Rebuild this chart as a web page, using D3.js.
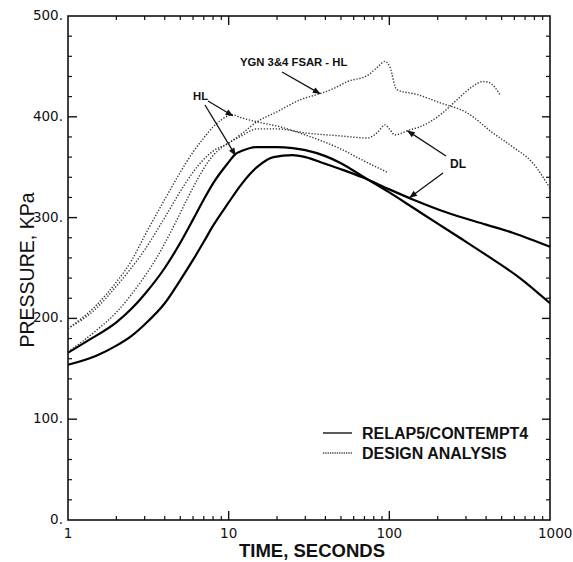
<!DOCTYPE html>
<html>
<head>
<meta charset="utf-8">
<title>Pressure vs time</title>
<script src="https://d3js.org/d3.v7.min.js"></script>
<style>
  body { margin: 0; background: #fff; }
  text { fill: #111; }
  .tick-label { font-family: "DejaVu Sans", sans-serif; font-size: 13.5px; }
  .note { font-family: "Liberation Sans", Arial, sans-serif; font-weight: bold; font-size: 11.3px; }
</style>
</head>
<body>
<div id="chart"></div>
<script>
// time (s) / pressure (kPa)
var relapHL_t = [1, 1.33, 2, 2.5, 3, 4, 5, 6, 7, 8, 10, 11, 12, 15, 20, 25, 30, 40, 50, 68, 100, 140, 200, 287, 400, 650, 1000];
var relapHL_p = [166, 178, 196, 210, 224, 250, 275, 298, 318, 334, 355, 363, 366, 370, 370, 369, 367, 361, 354, 341, 325, 310, 294, 278, 263, 240, 215];

var relapDL_t = [1, 1.5, 2, 2.5, 3, 4, 5, 6, 7, 8, 10, 12, 15, 19, 25, 30, 39, 50, 68, 100, 140, 228, 400, 585, 800, 1000];
var relapDL_p = [154, 163, 173, 183, 194, 215, 238, 258, 276, 292, 315, 333, 350, 360, 362, 360, 354, 348, 340, 328, 318, 305, 293, 285, 277, 271];

var designHL_t = [1, 1.5, 2, 2.5, 3, 4, 5, 6, 7, 8, 9, 10.5, 12, 15, 21, 30, 50, 70, 97];
var designHL_p = [190, 213, 236, 258, 282, 318, 345, 365, 379, 390, 397, 402, 399, 395, 390, 382, 368, 356, 345];

var designDL_t = [1, 1.5, 2, 2.8, 3.5, 4.5, 5.5, 6.5, 7.5, 8.5, 10, 12, 15, 20, 30, 50, 73, 85, 94, 100, 108, 134, 155, 215, 264, 330, 381, 419, 488];
var designDL_p = [167, 188, 206, 235, 258, 290, 318, 340, 356, 366, 374, 381, 388, 388, 384, 381, 379, 385, 392, 388, 382, 387, 390, 404, 417, 430, 435, 434, 422];

var fsarHL_t = [1, 1.5, 2, 3, 4, 5, 6, 7, 8, 10, 12, 15, 20, 28, 37, 45, 55, 73, 84, 94, 101, 111, 150, 206, 304, 441, 588, 783, 1000];
var fsarHL_p = [190, 210, 232, 268, 300, 326, 345, 358, 366, 374, 383, 395, 405, 417, 423, 428, 435, 441, 449, 455, 449, 427, 422, 414, 404, 384, 370, 354, 329];

var xMajor = [1, 10, 100, 1000];
var yMajor = [0, 100, 200, 300, 400, 500];
var legendNames = ["RELAP5/CONTEMPT4", "DESIGN ANALYSIS"];

const W = 573, H = 562;
const svg = d3.select("#chart").append("svg").attr("width", W).attr("height", H);

const x = d3.scaleLog().domain([1, 1000]).range([68, 550]);
const y = d3.scaleLinear().domain([0, 500]).range([520, 16]);

function pts(ts, ps) { return ts.map((t, i) => [t, ps[i]]); }

const line = d3.line()
  .x(d => x(d[0]))
  .y(d => y(d[1]))
  .curve(d3.curveMonotoneX);

// marker for annotation arrows
svg.append("defs").append("marker")
  .attr("id", "head")
  .attr("viewBox", "0 0 10 10")
  .attr("refX", 9).attr("refY", 5)
  .attr("markerWidth", 7).attr("markerHeight", 6)
  .attr("orient", "auto")
  .append("path").attr("d", "M0,1 L10,5 L0,9 Z").attr("fill", "#111");

// ticks, all pointing inwards
var minorX = [];
[1, 10, 100].forEach(d => { for (var k = 2; k <= 9; k++) minorX.push(d * k); });
var minorY = d3.range(0, 501, 20).filter(v => v % 100 != 0);

const axes = svg.append("g").attr("stroke", "#111");
axes.append("rect")
  .attr("x", x(1)).attr("y", y(500))
  .attr("width", x(1000) - x(1)).attr("height", y(0) - y(500))
  .attr("fill", "none").attr("stroke-width", 1.6);

minorX.forEach(v => {
  axes.append("line").attr("x1", x(v)).attr("x2", x(v)).attr("y1", y(0)).attr("y2", y(0) - 4).attr("stroke-width", 1.2);
  axes.append("line").attr("x1", x(v)).attr("x2", x(v)).attr("y1", y(500)).attr("y2", y(500) + 4).attr("stroke-width", 1.2);
});
xMajor.slice(1, 3).forEach(v => {
  axes.append("line").attr("x1", x(v)).attr("x2", x(v)).attr("y1", y(0)).attr("y2", y(0) - 9).attr("stroke-width", 1.4);
  axes.append("line").attr("x1", x(v)).attr("x2", x(v)).attr("y1", y(500)).attr("y2", y(500) + 9).attr("stroke-width", 1.4);
});
minorY.forEach(v => {
  axes.append("line").attr("x1", x(1)).attr("x2", x(1) + 4).attr("y1", y(v)).attr("y2", y(v)).attr("stroke-width", 1.2);
  axes.append("line").attr("x1", x(1000)).attr("x2", x(1000) - 4).attr("y1", y(v)).attr("y2", y(v)).attr("stroke-width", 1.2);
});
yMajor.slice(1, 5).forEach(v => {
  axes.append("line").attr("x1", x(1)).attr("x2", x(1) + 9).attr("y1", y(v)).attr("y2", y(v)).attr("stroke-width", 1.4);
  axes.append("line").attr("x1", x(1000)).attr("x2", x(1000) - 8).attr("y1", y(v)).attr("y2", y(v)).attr("stroke-width", 1.4);
});

svg.selectAll(".xl").data(xMajor).enter().append("text")
  .attr("class", "tick-label")
  .attr("x", d => x(d)).attr("y", 538)
  .attr("text-anchor", d => d == 1000 ? "start" : "middle")
  .attr("dx", d => d == 1000 ? -12 : 0)
  .text(d => d);

svg.selectAll(".yl").data(yMajor).enter().append("text")
  .attr("class", "tick-label")
  .attr("x", 63).attr("y", d => y(d) + 4)
  .attr("text-anchor", "end")
  .text(d => d + ".");

svg.append("text")
  .attr("x", 312).attr("y", 557)
  .attr("text-anchor", "middle")
  .style("font-family", "'Liberation Sans', Arial, sans-serif")
  .style("font-weight", "bold").style("font-size", "18.5px")
  .text("TIME, SECONDS");

svg.append("text")
  .attr("transform", "translate(34,270) rotate(-90)")
  .attr("text-anchor", "middle")
  .style("font-family", "'Liberation Sans', Arial, sans-serif")
  .style("font-size", "19.5px")
  .text("PRESSURE, KPa");

// curves
const solid = { stroke: "#000", width: 2.2, dash: null };
const dotted = { stroke: "#333", width: 1.4, dash: "1.3,1.7" };

[[relapHL_t, relapHL_p, solid], [relapDL_t, relapDL_p, solid],
 [designHL_t, designHL_p, dotted], [designDL_t, designDL_p, dotted],
 [fsarHL_t, fsarHL_p, dotted]].forEach(s => {
  svg.append("path")
    .datum(pts(s[0], s[1]))
    .attr("d", line)
    .attr("fill", "none")
    .attr("stroke", s[2].stroke)
    .attr("stroke-width", s[2].width)
    .attr("stroke-dasharray", s[2].dash);
});

// annotations
function arrow(x1, y1, x2, y2) {
  svg.append("line")
    .attr("x1", x1).attr("y1", y1).attr("x2", x2).attr("y2", y2)
    .attr("stroke", "#111").attr("stroke-width", 1.3)
    .attr("marker-end", "url(#head)");
}

svg.append("text").attr("class", "note").attr("x", 240).attr("y", 66).text("YGN 3&4 FSAR - HL");
arrow(282, 72, x(37), y(423));

svg.append("text").attr("class", "note").attr("x", 193).attr("y", 100).text("HL");
arrow(208, 101, x(10.6), y(401));
arrow(205, 105, x(11), y(362));

svg.append("text").attr("class", "note").attr("x", 450).attr("y", 168).style("font-size", "12px").text("DL");
arrow(446, 156, x(130), y(386));
arrow(443, 173, x(134), y(320));

// legend
const legend = svg.append("g").attr("transform", "translate(323,433)");
legendNames.forEach((name, i) => {
  legend.append("line")
    .attr("x1", 0).attr("x2", 29).attr("y1", i * 20).attr("y2", i * 20)
    .attr("stroke", i == 0 ? "#000" : "#444")
    .attr("stroke-width", 1.3)
    .attr("stroke-dasharray", i == 0 ? null : "1.3,1");
  legend.append("text")
    .attr("x", 39).attr("y", i * 20 + 6)
    .style("font-family", "'Liberation Sans', Arial, sans-serif")
    .style("font-weight", "bold").style("font-size", "16px")
    .text(name);
});
</script>
</body>
</html>
